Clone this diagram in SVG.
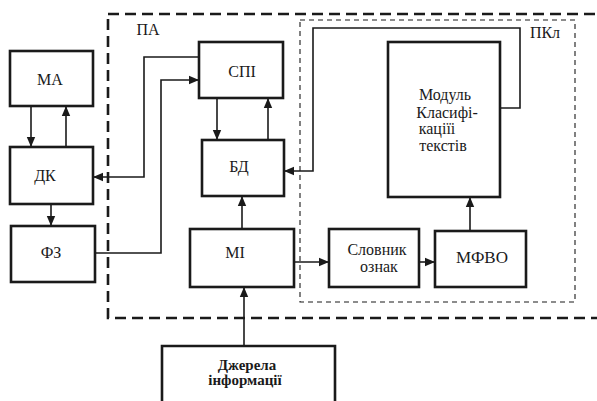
<svg xmlns="http://www.w3.org/2000/svg" width="597" height="401" viewBox="0 0 597 401">
<style>
.box{fill:#fff;stroke:#1a1a1a;stroke-width:2.6}
.con{fill:none;stroke:#1a1a1a;stroke-width:1.6}
text{font-family:"Liberation Serif","Tinos","Noto Serif","DejaVu Serif","FreeSerif","Times New Roman",Times,serif;font-size:16px;fill:#1a1a1a;text-anchor:middle}
.outer{fill:none;stroke:#1a1a1a;stroke-width:2.6;stroke-dasharray:11,6}
.inner{fill:none;stroke:#1a1a1a;stroke-width:1.1;stroke-dasharray:5,4}
.src{font-weight:bold;font-size:15px}
</style>
<defs>
<marker id="arr" markerUnits="userSpaceOnUse" markerWidth="10" markerHeight="10" viewBox="0 0 10 10" refX="10" refY="5" orient="auto">
<path d="M0,0.8 L10,5 L0,9.2 Z" fill="#1a1a1a"/>
</marker>
</defs>
<rect width="597" height="401" fill="#fff"/>
<g id="pa">
<rect class="outer" x="108" y="14" width="520" height="304"/>
<text x="148" y="35">ПА</text>
</g>
<g id="pkl">
<rect class="inner" x="300" y="20" width="275" height="282"/>
<text x="545" y="38">ПКл</text>
</g>
<g id="connectors">
<line class="con" x1="31" y1="106" x2="31" y2="147" marker-end="url(#arr)"/>
<line class="con" x1="66" y1="147" x2="66" y2="106" marker-end="url(#arr)"/>
<line class="con" x1="51" y1="204" x2="51" y2="226" marker-end="url(#arr)"/>
<path class="con" d="M199,57 H144 V177 H93" marker-end="url(#arr)"/>
<path class="con" d="M95,253 H161 V80 H199" marker-end="url(#arr)"/>
<line class="con" x1="217" y1="98" x2="217" y2="140" marker-end="url(#arr)"/>
<line class="con" x1="268" y1="140" x2="268" y2="98" marker-end="url(#arr)"/>
<line class="con" x1="242" y1="229" x2="242" y2="196" marker-end="url(#arr)"/>
<line class="con" x1="244" y1="346" x2="244" y2="287" marker-end="url(#arr)"/>
<line class="con" x1="294" y1="262" x2="329" y2="262" marker-end="url(#arr)"/>
<line class="con" x1="419" y1="262" x2="435" y2="262" marker-end="url(#arr)"/>
<line class="con" x1="470" y1="231" x2="470" y2="197" marker-end="url(#arr)"/>
<path class="con" d="M500,108 H520 V28 H313 V171 H284" marker-end="url(#arr)"/>
</g>
<g id="ma">
<rect class="box" x="10" y="51" width="83" height="55"/>
<text x="50" y="85">МА</text>
</g>
<g id="dk">
<rect class="box" x="10" y="147" width="83" height="57"/>
<text x="45" y="181">ДК</text>
</g>
<g id="fz">
<rect class="box" x="11" y="226" width="84" height="56"/>
<text x="51" y="258">ФЗ</text>
</g>
<g id="spi">
<rect class="box" x="199" y="42" width="84" height="56"/>
<text x="242" y="77">СПІ</text>
</g>
<g id="bd">
<rect class="box" x="202" y="140" width="82" height="56"/>
<text x="239" y="172">БД</text>
</g>
<g id="mi">
<rect class="box" x="190" y="229" width="104" height="58"/>
<text x="235" y="258">МІ</text>
</g>
<g id="module">
<rect class="box" x="388" y="42" width="112" height="155"/>
<text x="445" y="100">Модуль</text>
<text x="447" y="118">Класифі-</text>
<text x="437" y="134">каціїі</text>
<text x="443" y="151">текстів</text>
</g>
<g id="slovnyk">
<rect class="box" x="329" y="229" width="90" height="58"/>
<text x="377" y="255">Словник</text>
<text x="379" y="272">ознак</text>
</g>
<g id="mfvo">
<rect class="box" x="435" y="231" width="91" height="56"/>
<text x="482" y="263" style="font-size:17px">МФВО</text>
</g>
<g id="dzherela">
<path class="box" d="M162,405 V346 H335 V405"/>
<text class="src" x="247" y="370">Джерела</text>
<text class="src" x="245" y="385">інформації</text>
</g>
</svg>
